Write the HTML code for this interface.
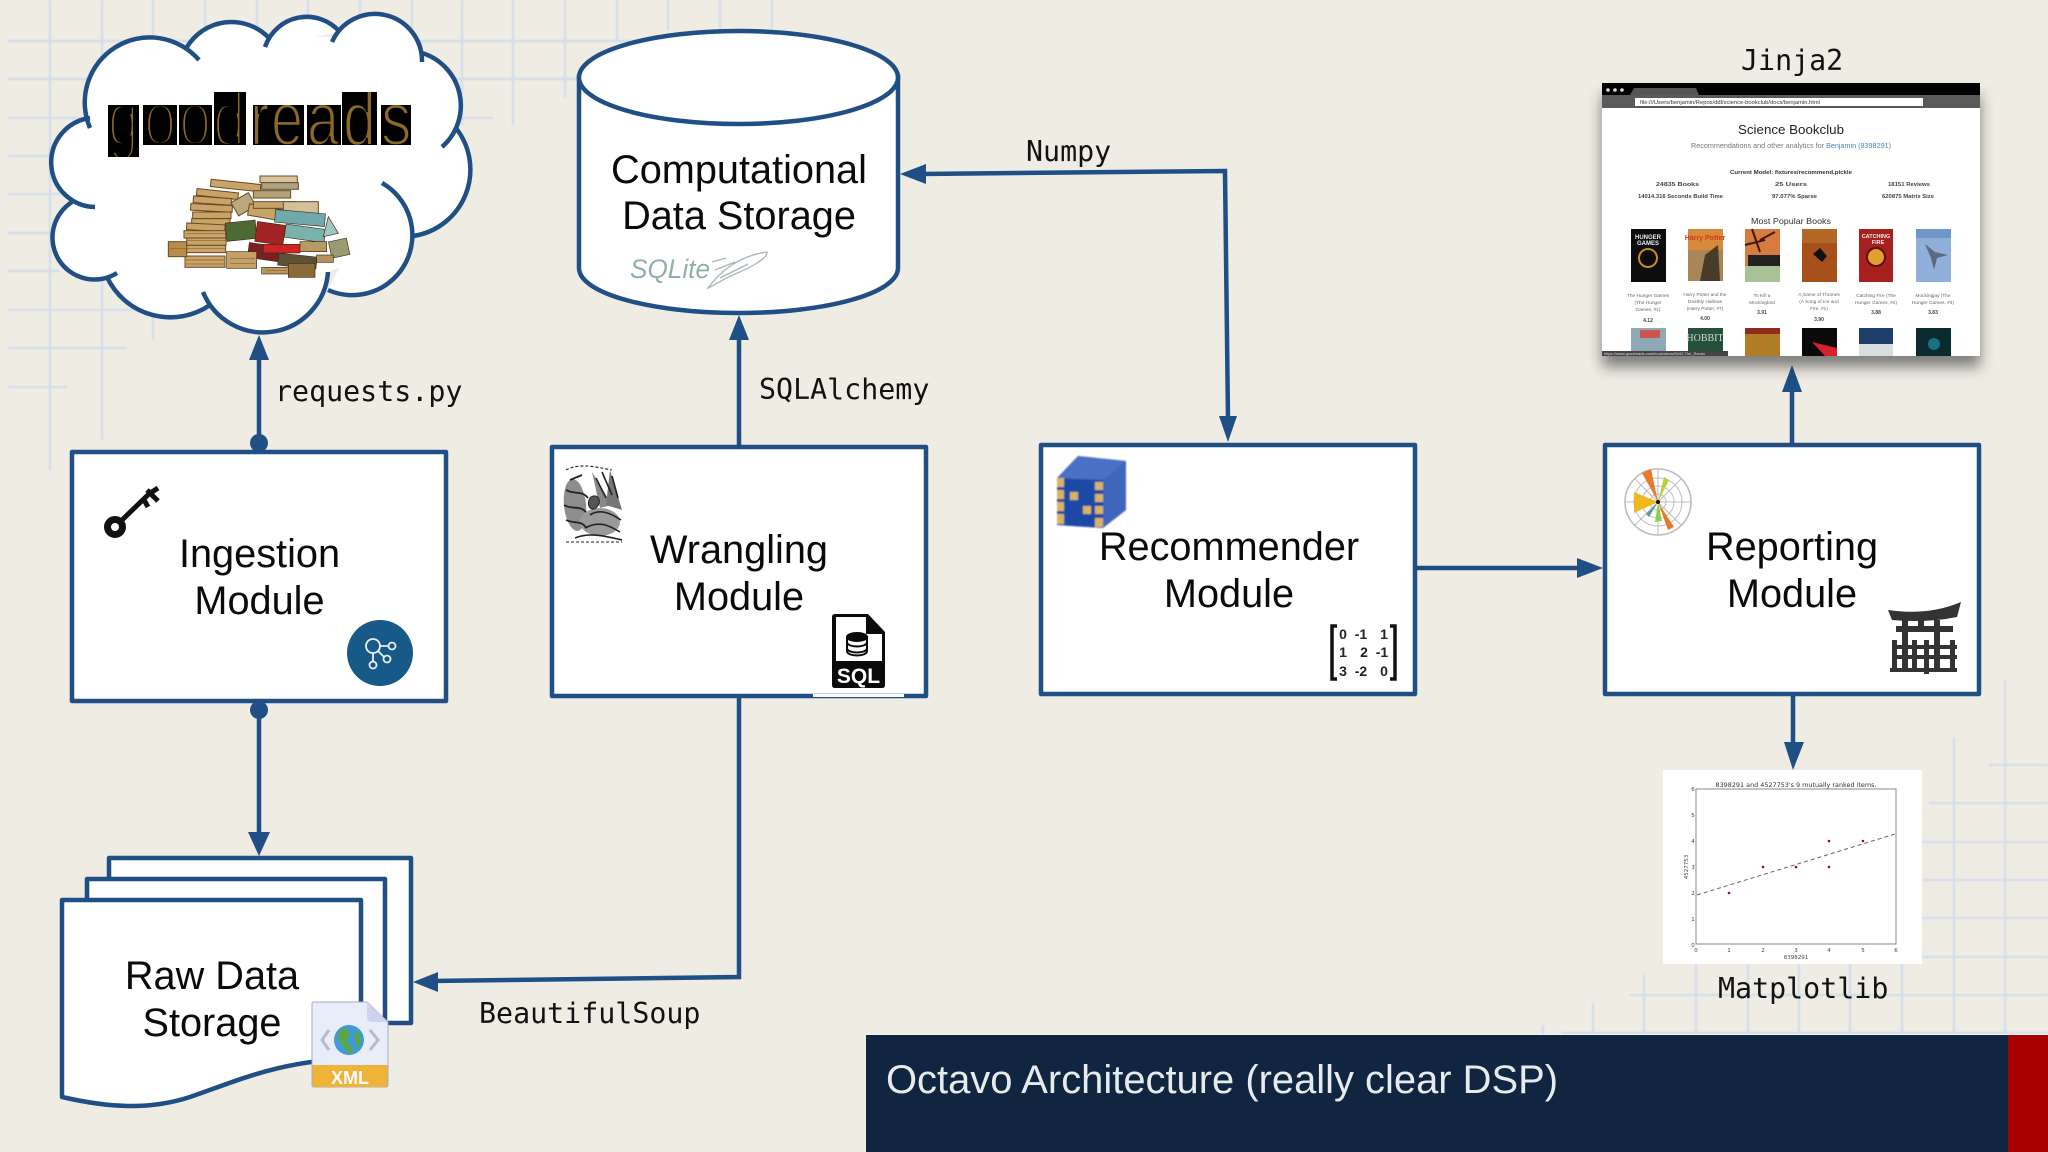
<!DOCTYPE html>
<html><head><meta charset="utf-8"><title>Octavo Architecture</title>
<style>
html,body{margin:0;padding:0;background:#efece4;width:2048px;height:1152px;overflow:hidden}
svg{display:block}
.s{font-family:"Liberation Sans",Arial,sans-serif}
.m{font-family:"DejaVu Sans Mono","Liberation Mono",monospace;font-size:28.3px;fill:#111}
.t{font-family:"Liberation Sans",Arial,sans-serif;font-size:39.7px;fill:#0a0a0a;text-anchor:middle}
</style></head><body>
<svg width="2048" height="1152" viewBox="0 0 2048 1152" xmlns="http://www.w3.org/2000/svg">
<defs>
<filter id="b" x="-20%" y="-20%" width="140%" height="140%"><feGaussianBlur stdDeviation="7"/></filter>
<filter id="soft" x="-5%" y="-5%" width="110%" height="110%"><feGaussianBlur stdDeviation=".35"/></filter>
<filter id="bl" x="-10%" y="-10%" width="120%" height="120%"><feGaussianBlur stdDeviation=".8"/></filter>
<filter id="grid" x="-1%" y="-1%" width="102%" height="102%"><feGaussianBlur stdDeviation=".5"/></filter>
<clipPath id="gr">
<rect x="108" y="105" width="31" height="52"/><rect x="143" y="105" width="34" height="40"/><rect x="179" y="105" width="33" height="40"/><rect x="214" y="92" width="32" height="53"/>
<rect x="253" y="105" width="20" height="40"/><rect x="271" y="105" width="33" height="40"/><rect x="307" y="105" width="34" height="40"/><rect x="342" y="92" width="35" height="53"/><rect x="381" y="105" width="30" height="40"/>
</clipPath>
</defs>
<rect width="2048" height="1152" fill="#efece4"/>
<!-- grid -->
<g stroke="#d5dfeb" stroke-width="2.5" fill="none" filter="url(#grid)">
<path d="M50 0V470M102 0V440M153 0V340M205 0V60M257 0V40M308 0V40M360 0V40M412 0V40M462 0V125M513 0V125M565 0V98M617 0V40M668 0V30M720 0V30M772 0V30"/>
<path d="M8 41H640M8 79H580M8 118H493M8 156H60M8 194H60M8 233H60M8 271H60M8 310H150M8 348H127M8 387H67"/>
<path d="M1543 1025V1035M1593 1003V1035M1644 975V1035M1696 960V1035M1748 960V1035M1799 960V1035M1850 960V1035M1902 960V1035M1954 737V1035M2005 680V1035"/>
<path d="M1561 1033H2048M1630 995H2048M1922 957H2048M1922 918H2048M1922 880H2048M1922 842H2048M1929 803H2048M1989 765H2048"/>
</g>

<!-- cloud fill -->
<g fill="#fff">
<polygon points="90,118 187,47 268,37 336,37 422,53 442,147 455,127 413,236 328,272 328,290 262,310 210,305 107,277 72,202 95,207"/>
<path d="M90 128A65 65 0 0 1 199 60Z"/><path d="M187 47A52 52 0 0 1 268 37Z"/><path d="M265 47A44 44 0 0 1 340 32Z"/>
<path d="M332 42A47 47 0 0 1 422 62Z"/><path d="M422 53A55 55 0 0 1 442 147Z"/><path d="M455 127A67 67 0 0 1 413 236Z"/>
<path d="M382 183A60 60 0 0 1 328 290Z"/><path d="M328 272A65 65 0 0 1 203 292Z"/><path d="M210 305A70 70 0 0 1 107 277Z"/>
<path d="M117 273A42 42 0 0 1 72 202Z"/><path d="M95 207A44.700 44.700 0 0 1 90 118Z"/>
</g>
<g fill="none" stroke="#1f4f85" stroke-width="4.500">
<path d="M90 128A65 65 0 0 1 199 60"/><path d="M187 47A52 52 0 0 1 268 37"/><path d="M265 47A44 44 0 0 1 340 32"/>
<path d="M332 42A47 47 0 0 1 422 62"/><path d="M422 53A55 55 0 0 1 442 147"/><path d="M455 127A67 67 0 0 1 413 236"/>
<path d="M382 183A60 60 0 0 1 328 290"/><path d="M328 272A65 65 0 0 1 203 292"/><path d="M210 305A70 70 0 0 1 107 277"/>
<path d="M117 273A42 42 0 0 1 72 202"/><path d="M95 207A44.700 44.700 0 0 1 90 118"/>
</g>
<!-- goodreads letters -->
<g fill="#000">
<rect x="108" y="105" width="31" height="52"/><rect x="143" y="105" width="34" height="40"/><rect x="179" y="105" width="33" height="40"/><rect x="214" y="92" width="32" height="53"/>
<rect x="253" y="105" width="20" height="40"/><rect x="271" y="105" width="33" height="40"/><rect x="307" y="105" width="34" height="40"/><rect x="342" y="92" width="35" height="53"/><rect x="381" y="105" width="30" height="40"/>
</g>
<g clip-path="url(#gr)">
<g class="s" font-size="76" fill="#8a6a26" stroke="#000">
<g stroke-width="4.700">
<text transform="translate(108,145) scale(.72,1)">g</text>
<text transform="translate(144,145) scale(.76,1)">o</text>
<text transform="translate(179,145) scale(.76,1)">o</text>
<text transform="translate(213,145) scale(.76,1)">d</text>
</g>
<g stroke-width="2.400">
<text transform="translate(250,145) scale(.76,1)">r</text>
<text transform="translate(271,145) scale(.76,1)">e</text>
<text transform="translate(307,145) scale(.76,1)">a</text>
<text transform="translate(343,145) scale(.78,1)">d</text>
<text transform="translate(381,145) scale(.8,1)">s</text>
</g>
</g>
</g>
<!-- pile of books -->
<g transform="scale(.33333)">
<g fill="#c9a468" stroke="#6b4a22" stroke-width="3">
<rect x="632" y="545" width="150" height="22" transform="rotate(6 700 555)"/>
<rect x="780" y="528" width="112" height="20" fill="#d8c49b"/>
<rect x="785" y="548" width="110" height="20" fill="#a9a486"/>
<rect x="760" y="572" width="112" height="22" fill="#b4a276"/>
<rect x="590" y="572" width="125" height="20" transform="rotate(6 650 580)"/>
<rect x="580" y="592" width="115" height="20" transform="rotate(4 640 600)"/>
<rect x="572" y="614" width="125" height="20" transform="rotate(3 640 624)"/>
<rect x="578" y="636" width="115" height="20"/>
<rect x="575" y="656" width="115" height="20"/>
<rect x="560" y="672" width="115" height="20" transform="rotate(3 620 680)"/>
<rect x="552" y="692" width="125" height="22"/>
<rect x="560" y="714" width="118" height="22"/>
<rect x="555" y="736" width="122" height="22"/>
<rect x="555" y="768" width="120" height="34"/>
<rect x="505" y="725" width="55" height="45" fill="#b78c4c"/>
<rect x="700" y="590" width="60" height="46" transform="rotate(-30 730 612)" fill="#b9a77d"/>
<rect x="745" y="620" width="100" height="34" transform="rotate(10 795 636)"/>
<rect x="760" y="605" width="130" height="20"/>
<rect x="850" y="605" width="105" height="40" fill="#d3c09a"/>
</g>
<g stroke="#3e2c14" stroke-width="2">
<rect x="678" y="665" width="90" height="55" fill="#4d6a35" transform="rotate(-6 720 690)"/>
<rect x="768" y="670" width="85" height="60" fill="#a22323" transform="rotate(8 810 700)"/>
<rect x="825" y="635" width="150" height="38" fill="#6fa9ab" transform="rotate(5 900 655)"/>
<rect x="855" y="680" width="120" height="40" fill="#7ab2ae" transform="rotate(8 915 700)"/>
<polygon points="985,650 1015,700 970,710" fill="#9cc8c0"/>
<rect x="745" y="735" width="110" height="45" fill="#7a1f25" transform="rotate(8 800 755)"/>
<rect x="790" y="733" width="110" height="26" fill="#d02424"/>
<rect x="680" y="755" width="90" height="50" fill="#c4a066"/>
<rect x="785" y="802" width="80" height="20" fill="#b9975d"/>
<rect x="835" y="765" width="115" height="36" fill="#5c5137" transform="rotate(6 890 780)"/>
<rect x="865" y="790" width="80" height="42" fill="#8a6a38"/>
<rect x="900" y="725" width="80" height="30" fill="#b99a63"/>
<rect x="990" y="720" width="55" height="50" fill="#9c9a72" transform="rotate(-12 1015 745)"/>
<rect x="950" y="765" width="50" height="22" fill="#b5935a"/>
</g>
<g fill="none" stroke="#7a5527" stroke-width="2" opacity=".8">
<path d="M560 700H675M560 722H675M558 745H675M558 780H672M558 792H672M510 745H558M690 775H765M690 790H765M800 812H860"/>
</g>
</g>

<!-- cylinder -->
<path d="M579 77V268C579 293 650 313 738.500 313S898 293 898 268V77Z" fill="#fff" stroke="#1f4f85" stroke-width="4.500"/>
<ellipse cx="738.500" cy="77.500" rx="159.500" ry="46.500" fill="#fff" stroke="#1f4f85" stroke-width="4.500"/>
<text class="t" x="739" y="183">Computational</text>
<text class="t" x="739" y="229">Data Storage</text>
<text class="s" x="630" y="278" font-size="27" font-style="italic" fill="#8fb2a6" textLength="80" lengthAdjust="spacingAndGlyphs">SQLite</text>
<g fill="none" stroke="#a8b8b0" stroke-width="1.300">
<path d="M708 288C725 265 745 255 767 252C768 258 750 268 735 274C725 278 715 285 708 288Z"/>
<path d="M715 270L735 262M720 278L748 264M712 262L726 258"/>
</g>

<!-- connectors -->
<g fill="none" stroke="#1f4f85" stroke-width="4.500">
<path d="M259 450V352M259 705V840M739 446V335M739 696V977L430 981M1228 420L1225 171L920 174M1417 568H1580M1792 445V385M1793 695V745"/>
</g>
<g fill="#1f4f85">
<polygon points="259,335 249,360 269,360"/>
<polygon points="259,856 248,832 270,832"/>
<polygon points="739,315 729,340 749,340"/>
<polygon points="413,982 438,972 438,992"/>
<polygon points="900,174 926,164 926,184"/>
<polygon points="1228,442 1219,416 1237,416"/>
<polygon points="1603,568 1577,558 1577,578"/>
<polygon points="1792,365 1782,392 1802,392"/>
<polygon points="1793,770 1784,742 1804,742"/>
<circle cx="259" cy="443" r="9"/><circle cx="259" cy="710" r="9"/>
</g>

<!-- boxes -->
<g fill="#fff" stroke="#1f4f85" stroke-width="4.500" stroke-linejoin="round">
<rect x="72" y="452" width="374" height="249"/>
<rect x="552" y="447" width="374" height="249"/>
<rect x="1041" y="445" width="374" height="249"/>
<rect x="1605" y="445" width="374" height="249"/>
</g>
<text class="t" x="259.500" y="567">Ingestion</text><text class="t" x="259.500" y="614">Module</text>
<text class="t" x="739" y="563">Wrangling</text><text class="t" x="739" y="610">Module</text>
<text class="t" x="1229" y="560">Recommender</text><text class="t" x="1229" y="607">Module</text>
<text class="t" x="1792" y="560">Reporting</text><text class="t" x="1792" y="607">Module</text>

<!-- key -->
<g fill="none" stroke="#111">
<circle cx="115" cy="527" r="7.500" stroke-width="7"/>
<path d="M121 521L152 491" stroke-width="5"/>
<path d="M147 490L158 501M152 492L158 488M143 498L148 507" stroke-width="5"/>
</g>
<!-- network icon -->
<circle cx="380" cy="653" r="33" fill="#175a87"/>
<g fill="none" stroke="#e8f0f5" stroke-width="1.800">
<circle cx="373" cy="646" r="7"/><circle cx="392" cy="646" r="3.500"/><circle cx="387" cy="659" r="3.500"/><circle cx="373" cy="665" r="3.500"/>
<path d="M380 646H388M378 651L384 657M373 653V661"/>
</g>
<!-- engraving -->
<g filter="url(#soft)">
<ellipse cx="575" cy="505" rx="11" ry="26" fill="#8d8d8d" transform="rotate(-6 575 505)"/>
<ellipse cx="600" cy="522" rx="20" ry="14" fill="#9a9a9a"/>
<polygon points="592,472 612,505 600,508" fill="#888"/>
<polygon points="610,470 622,510 606,505" fill="#777"/>
<g fill="none" stroke="#222">
<path d="M566 490C575 495 582 490 588 498M564 505C572 510 580 505 586 512M566 520C574 524 582 520 586 528M570 480L582 475" stroke-width="1.800"/>
<path d="M596 478L606 498M602 472L612 495M612 476L618 498M590 515C600 508 612 514 621 520M585 528C600 520 610 526 620 532M575 538C590 532 605 536 622 540" stroke-width="1.600"/>
<path d="M590 498C596 492 604 500 596 508C590 512 586 504 590 498Z" fill="#555" stroke-width="1"/>
<path d="M566 470C580 462 600 468 612 470M566 542H622" stroke-width="1.100" stroke-dasharray="3 2"/>
</g>
</g>
<!-- SQL file -->
<rect x="813" y="694" width="91" height="3" fill="#fff"/>
<path d="M835 614H868L885 632V685Q885 688 882 688H835Q832 688 832 685V617Q832 614 835 614Z" fill="#0a0a0a"/>
<path d="M836 617H866V634H882V661H836Z" fill="#fff"/>
<g fill="none" stroke="#0a0a0a" stroke-width="2">
<ellipse cx="857" cy="637" rx="10" ry="4" fill="#0a0a0a"/>
<path d="M847 642C847 648 867 648 867 642M847 648C847 654 867 654 867 648M847 637V651C847 657 867 657 867 651V637"/>
</g>
<text class="s" x="858.500" y="683" font-size="21" font-weight="bold" fill="#fff" text-anchor="middle">SQL</text>
<!-- cube -->
<g filter="url(#bl)">
<polygon points="1057,478 1078,456 1126,461 1126,510 1103,528 1057,525" fill="#3e64b6"/>
<polygon points="1057,478 1103,480 1103,528 1057,525" fill="#1d4aa6"/>
<polygon points="1103,480 1126,461 1126,510 1103,528" fill="#3f66bb"/>
<polygon points="1057,478 1078,456 1126,461 1103,480" fill="#4a70c4"/>
<g fill="#d8b465">
<rect x="1057" y="478" width="7" height="9"/><rect x="1057" y="490" width="7" height="9"/><rect x="1057" y="502" width="7" height="9"/><rect x="1057" y="514" width="7" height="10"/>
<rect x="1070" y="492" width="8" height="8"/><rect x="1083" y="506" width="8" height="8"/>
<rect x="1095" y="482" width="8" height="8"/><rect x="1095" y="494" width="8" height="8"/><rect x="1095" y="506" width="8" height="8"/><rect x="1095" y="518" width="8" height="9"/>
</g>
</g>
<!-- matrix -->
<g fill="none" stroke="#111" stroke-width="3.500"><path d="M1337 626H1332V679H1337M1390 626H1395V679H1390"/></g>
<g font-family="Liberation Sans,sans-serif" font-size="14" font-weight="bold" fill="#222" text-anchor="middle">
<text x="1343" y="639">0</text><text x="1361" y="639">-1</text><text x="1384" y="639">1</text>
<text x="1343" y="657">1</text><text x="1364" y="657">2</text><text x="1382" y="657">-1</text>
<text x="1343" y="676">3</text><text x="1361" y="676">-2</text><text x="1384" y="676">0</text>
</g>
<!-- polar icon -->
<g fill="none" stroke="#bdbdbd" stroke-width="1">
<circle cx="1658" cy="502" r="33" stroke-width="1.600"/><circle cx="1658" cy="502" r="24"/><circle cx="1658" cy="502" r="16"/><circle cx="1658" cy="502" r="8"/>
<path d="M1625 502H1691M1658 469V535M1635 479L1681 525M1681 479L1635 525"/>
</g>
<g>
<polygon points="1658,502 1642,473 1651,469" fill="#e8792d"/>
<polygon points="1658,502 1669,480 1664,477" fill="#b8cf3e"/>
<polygon points="1658,502 1634,492 1634,513" fill="#f0b81f"/>
<polygon points="1658,502 1662,521 1655,522" fill="#8fd050"/>
<polygon points="1658,502 1674,527 1668,530" fill="#e8792d"/>
<polygon points="1658,502 1646,514 1649,517" fill="#5a9a98"/>
<circle cx="1658" cy="502" r="2" fill="#111"/>
</g>
<!-- torii -->
<g fill="#333" transform="translate(3,0)">
<path d="M1885 610Q1925 616 1958 602L1954 617Q1925 623 1889 620Z"/>
<rect x="1893" y="626" width="57" height="6"/>
<rect x="1899" y="620" width="6" height="52"/><rect x="1931" y="620" width="6" height="52"/>
<rect x="1915" y="620" width="6" height="8"/>
<rect x="1889" y="645" width="65" height="4"/><rect x="1889" y="655" width="65" height="4"/>
<rect x="1889" y="640" width="5" height="32"/><rect x="1909" y="640" width="5" height="32"/><rect x="1921" y="640" width="5" height="34"/><rect x="1947" y="640" width="5" height="32"/>
<rect x="1887" y="668" width="67" height="4"/>
</g>

<!-- raw data stack -->
<g fill="#fff" stroke="#1f4f85" stroke-width="4.500" stroke-linejoin="round">
<rect x="109" y="858" width="302" height="165"/>
<rect x="87" y="879" width="298" height="165"/>
<path d="M62 900H361V1058C280 1060 240 1080 190 1097C150 1110 110 1108 62 1097Z"/>
</g>
<text class="t" x="212" y="989">Raw Data</text>
<text class="t" x="212" y="1036">Storage</text>
<!-- xml icon -->
<path d="M314 1002H367L388 1022V1085Q388 1087 386 1087H314Q312 1087 312 1085V1004Q312 1002 314 1002Z" fill="#e9ecf9" stroke="#a5abc8" stroke-width="1"/>
<path d="M367 1002L388 1022H372Q367 1022 367 1017Z" fill="#cdd5ec"/>
<rect x="312.500" y="1065" width="75" height="22" fill="#f0b33a"/>
<text class="s" x="350" y="1084" font-size="18" font-weight="bold" fill="#fff" text-anchor="middle" textLength="38" lengthAdjust="spacingAndGlyphs">XML</text>
<circle cx="349" cy="1040" r="15" fill="#3f9bd8"/>
<path d="M342 1028C350 1030 352 1034 348 1038C346 1042 350 1046 354 1050L350 1054C345 1048 338 1042 338 1034ZM357 1030C362 1036 362 1044 358 1048C355 1042 353 1036 357 1030Z" fill="#5ca64a"/>
<path d="M329 1030L322 1040L329 1050M370 1030L378 1040L370 1050" fill="none" stroke="#b8bbc8" stroke-width="3"/>

<!-- labels -->
<text class="m" x="275" y="401">requests.py</text>
<text class="m" x="759" y="399">SQLAlchemy</text>
<text class="m" x="1026" y="161">Numpy</text>
<text class="m" x="479" y="1023">BeautifulSoup</text>
<text class="m" x="1741" y="70">Jinja2</text>
<text class="m" x="1718" y="998">Matplotlib</text>

<!-- browser screenshot -->
<rect x="1602" y="95" width="378" height="272" fill="#222" opacity=".55" filter="url(#b)"/>
<rect x="1602" y="83" width="378" height="273" fill="#fff"/>
<rect x="1602" y="83" width="378" height="12" fill="#000"/>
<rect x="1602" y="95" width="378" height="13" fill="#5a5a5a"/>
<path d="M1630 95L1634 88H1696L1699 95Z" fill="#555"/>
<circle cx="1608" cy="90" r="1.800" fill="#ddd"/><circle cx="1615" cy="90" r="1.800" fill="#ddd"/><circle cx="1622" cy="90" r="1.800" fill="#ddd"/>
<rect x="1635" y="98" width="288" height="8" fill="#fff"/>
<g class="s" filter="url(#soft)">
<text x="1640" y="104" font-size="5" fill="#333" textLength="180" lengthAdjust="spacingAndGlyphs">file:///Users/benjamin/Repos/ddl/science-bookclub/docs/benjamin.html</text>
<text x="1791" y="134" font-size="13" fill="#222" text-anchor="middle" textLength="106" lengthAdjust="spacingAndGlyphs">Science Bookclub</text>
<text x="1691" y="148" font-size="7.500" fill="#777" textLength="200" lengthAdjust="spacingAndGlyphs">Recommendations and other analytics for <tspan fill="#4c84c4">Benjamin (8398291)</tspan></text>
<text x="1730" y="174" font-size="5.500" font-weight="bold" fill="#333" textLength="122" lengthAdjust="spacingAndGlyphs">Current Model: fixtures/recommend.pickle</text>
<g font-size="5.500" font-weight="bold" fill="#444">
<text x="1656" y="186" textLength="43" lengthAdjust="spacingAndGlyphs">24835 Books</text>
<text x="1775" y="186" textLength="32" lengthAdjust="spacingAndGlyphs">25 Users</text>
<text x="1888" y="186" textLength="42" lengthAdjust="spacingAndGlyphs">18151 Reviews</text>
<text x="1638" y="198" textLength="85" lengthAdjust="spacingAndGlyphs">14014.316 Seconds Build Time</text>
<text x="1772" y="198" textLength="45" lengthAdjust="spacingAndGlyphs">97.077% Sparse</text>
<text x="1882" y="198" textLength="52" lengthAdjust="spacingAndGlyphs">620875 Matrix Size</text>
</g>
<text x="1791" y="224" font-size="8.500" fill="#333" text-anchor="middle" textLength="80" lengthAdjust="spacingAndGlyphs">Most Popular Books</text>
<g font-size="4.800" fill="#666" text-anchor="middle">
<text x="1648" y="297">The Hunger Games</text><text x="1648" y="304">(The Hunger</text><text x="1648" y="311">Games, #1)</text>
<text x="1705" y="296">Harry Potter and the</text><text x="1705" y="303">Deathly Hallows</text><text x="1705" y="310">(Harry Potter, #7)</text>
<text x="1762" y="297">To Kill a</text><text x="1762" y="304">Mockingbird</text>
<text x="1819" y="296">A Game of Thrones</text><text x="1819" y="303">(A Song of Ice and</text><text x="1819" y="310">Fire, #1)</text>
<text x="1876" y="297">Catching Fire (The</text><text x="1876" y="304">Hunger Games, #2)</text>
<text x="1933" y="297">Mockingjay (The</text><text x="1933" y="304">Hunger Games, #3)</text>
</g>
<g font-size="5" font-weight="bold" fill="#444" text-anchor="middle">
<text x="1648" y="322">4.12</text><text x="1705" y="320">4.00</text><text x="1762" y="314">3.91</text><text x="1819" y="321">3.90</text><text x="1876" y="314">3.88</text><text x="1933" y="314">3.83</text>
</g>
</g>
<!-- covers -->
<rect x="1631" y="229" width="35" height="53" fill="#0c0c0c"/>
<circle cx="1648" cy="258" r="9" fill="none" stroke="#c98a22" stroke-width="2"/>
<text class="s" x="1648" y="239" font-size="6" font-weight="bold" fill="#eee" text-anchor="middle">HUNGER</text>
<text class="s" x="1648" y="245" font-size="6" font-weight="bold" fill="#eee" text-anchor="middle">GAMES</text>
<rect x="1688" y="229" width="35" height="52" fill="#d68a3c"/>
<rect x="1688" y="250" width="35" height="31" fill="#a9855a"/>
<path d="M1700 281L1705 255L1718 245L1720 281Z" fill="#4a3a2a"/>
<text class="s" x="1705" y="240" font-size="7" font-weight="bold" fill="#d63a1a" text-anchor="middle">Harry Potter</text>
<rect x="1745" y="229" width="35" height="53" fill="#d87b3e"/>
<path d="M1745 245L1765 240M1752 229L1760 252M1760 240L1775 232" stroke="#3c1a10" stroke-width="2"/>
<rect x="1748" y="255" width="32" height="11" fill="#222"/>
<rect x="1745" y="266" width="35" height="16" fill="#a8c196"/>
<rect x="1802" y="229" width="35" height="53" fill="#a8501a"/>
<rect x="1802" y="229" width="35" height="14" fill="#b46825"/>
<path d="M1813 254L1820 248L1827 256L1822 262Z" fill="#111"/>
<rect x="1859" y="229" width="34" height="53" fill="#a8201e"/>
<circle cx="1876" cy="257" r="9" fill="#e0a030" stroke="#5a1010" stroke-width="2"/>
<text class="s" x="1876" y="238" font-size="5.500" font-weight="bold" fill="#eee" text-anchor="middle">CATCHING</text>
<text class="s" x="1878" y="244" font-size="5.500" font-weight="bold" fill="#eee" text-anchor="middle">FIRE</text>
<rect x="1916" y="229" width="35" height="53" fill="#8fb0d8"/>
<rect x="1916" y="229" width="35" height="9" fill="#6f97c8"/>
<path d="M1925 244L1935 252L1948 255L1937 258L1934 270L1931 258Z" fill="#5a6b80"/>
<rect x="1631" y="328" width="35" height="28" fill="#8ea8b8"/><rect x="1640" y="330" width="20" height="8" fill="#c9574a"/>
<rect x="1688" y="328" width="35" height="28" fill="#24503c"/>
<text x="1705" y="341" font-family="Liberation Serif,serif" font-size="10" fill="#d8dccb" text-anchor="middle">HOBBIT</text>
<rect x="1745" y="328" width="35" height="28" fill="#b07c25"/><rect x="1745" y="328" width="35" height="6" fill="#8f2a1e"/>
<rect x="1802" y="328" width="35" height="28" fill="#0a0a0a"/><polygon points="1812,342 1837,348 1837,356 1825,356" fill="#d8212a"/>
<rect x="1859" y="328" width="34" height="28" fill="#d8dde0"/><rect x="1859" y="328" width="34" height="16" fill="#1e3f6a"/>
<rect x="1916" y="328" width="35" height="28" fill="#0a2a30"/><circle cx="1934" cy="344" r="6" fill="#1a6f80"/>
<rect x="1602" y="351" width="126" height="5" fill="#444"/>
<text class="s" x="1604" y="355" font-size="4" fill="#ddd">https://www.goodreads.com/book/show/8442.The_Raven</text>

<!-- matplotlib -->
<rect x="1663" y="770" width="259" height="194" fill="#fff"/>
<rect x="1696" y="789" width="200" height="155" fill="none" stroke="#888" stroke-width="1"/>
<text x="1796" y="787" font-family="DejaVu Sans,sans-serif" font-size="6.500" fill="#333" text-anchor="middle" textLength="161" lengthAdjust="spacingAndGlyphs">8398291 and 4527753's 9 mutually ranked items.</text>
<path d="M1697 895L1895 834" stroke="#666" stroke-width="1" stroke-dasharray="4 3" fill="none"/>
<g fill="#8a1020"><circle cx="1729" cy="893" r="1.300"/><circle cx="1763" cy="867" r="1.300"/><circle cx="1796" cy="867" r="1.300"/><circle cx="1829" cy="867" r="1.300"/><circle cx="1829" cy="841" r="1.300"/><circle cx="1863" cy="841" r="1.300"/></g>
<g font-family="DejaVu Sans,sans-serif" font-size="5.500" fill="#444" text-anchor="middle">
<text x="1696" y="952">0</text><text x="1729" y="952">1</text><text x="1763" y="952">2</text><text x="1796" y="952">3</text><text x="1829" y="952">4</text><text x="1863" y="952">5</text><text x="1896" y="952">6</text>
<text x="1693" y="947">0</text><text x="1693" y="921">1</text><text x="1693" y="895">2</text><text x="1693" y="869">3</text><text x="1693" y="843">4</text><text x="1693" y="817">5</text><text x="1693" y="791">6</text>
<text x="1796" y="959">8398291</text>
<text transform="translate(1688,867) rotate(-90)">4527753</text>
</g>

<!-- footer -->
<rect x="866" y="1034" width="1182" height="1" fill="#f5f5f0"/>
<rect x="866" y="1035" width="1142" height="117" fill="#102540"/>
<rect x="2008" y="1035" width="40" height="117" fill="#a80000"/>
<text class="s" x="886" y="1093" font-size="40" fill="#e6ebee" textLength="672" lengthAdjust="spacingAndGlyphs">Octavo Architecture (really clear DSP)</text>
</svg>
</body></html>
